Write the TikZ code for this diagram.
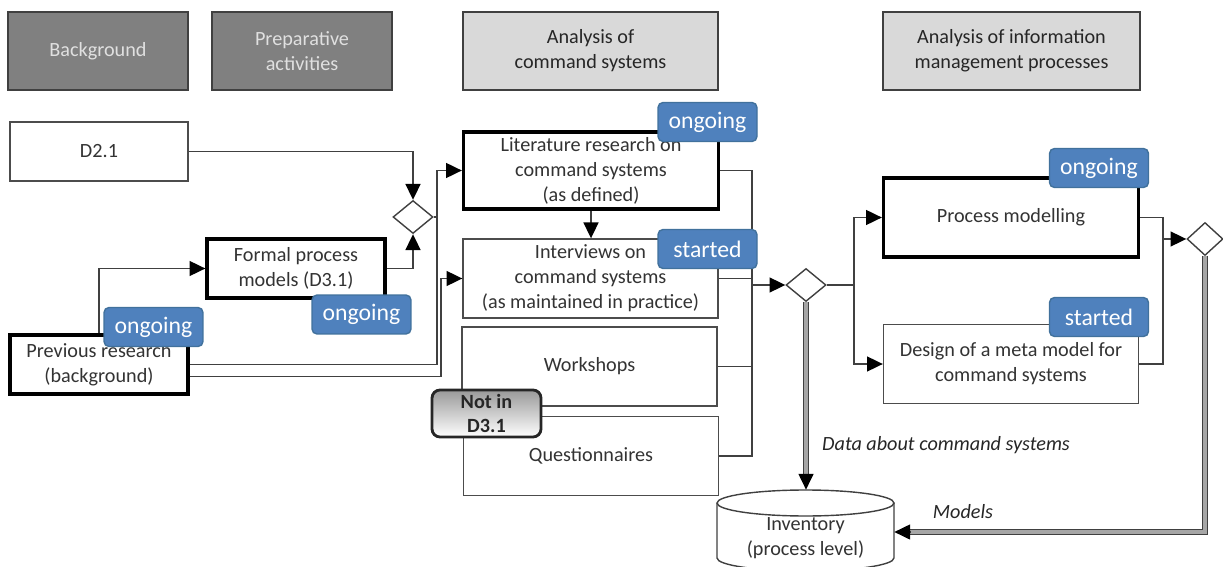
\documentclass[tikz,border=0pt]{standalone}
\usepackage{fontspec}
\setmainfont{Carlito}
\usetikzlibrary{arrows.meta,shapes.geometric}
\definecolor{statusblue}{HTML}{4F81BD}
\definecolor{statusedge}{HTML}{41719C}

\begin{document}
\begin{tikzpicture}[x=0.02cm, y=-0.02cm,
		every node/.style={font=\fontsize{11.5}{14.2}\selectfont, align=center, text=black!80},
		phasedark/.style={draw=black!75, line width=0.8pt, fill=black!50, text=black!12, minimum height=1.56cm},
		phaselight/.style={draw=black!75, line width=0.8pt, fill=black!15, text=black!85, minimum height=1.56cm},
		task/.style={draw=black!70, line width=0.8pt, fill=white, minimum width=5.1cm, minimum height=1.58cm, inner sep=2pt},
		taskbold/.style={task, draw=black, line width=1.9pt},
		smalltask/.style={minimum width=3.56cm, minimum height=1.18cm},
		status/.style={draw=statusedge, line width=0.8pt, fill=statusblue, rounded corners=0.1cm, text=white,
			minimum width=1.98cm, minimum height=0.78cm, inner sep=0pt, font=\fontsize{13.5}{16}\selectfont},
		notin/.style={draw=black!85, line width=1.6pt, rounded corners=0.16cm, top color=black!40, bottom color=white,
			minimum width=2.18cm, minimum height=0.94cm, inner sep=1pt, text=black!85, font=\fontsize{11.5}{14}\selectfont\bfseries},
		gate/.style={diamond, draw=black!75, line width=0.8pt, fill=white, minimum width=0.8cm, minimum height=0.66cm, inner sep=0pt},
		flow/.style={draw=black!75, line width=0.9pt, -{Triangle[length=9pt,width=8.5pt,color=black]}},
		link/.style={draw=black!75, line width=0.9pt},
		dbl/.style={draw=black!75, line width=0.8pt, double=black!35, double distance=1.8pt},
		note/.style={font=\fontsize{11.5}{14}\selectfont\itshape, text=black!85}]
			%%%%% START %%%%%
			\useasboundingbox (0, 0) rectangle (1223, 567);
			
			% phases
			\node[phasedark, minimum width=3.6cm] (bg) at (98, 51) {Background};
			\node[phasedark, minimum width=3.6cm] (prep) at (302, 51) {Preparative\\activities};
			\node[phaselight, minimum width=5.1cm] (acs) at (590.5, 51) {Analysis of\\command systems};
			\node[phaselight, minimum width=5.14cm] (aim) at (1011.5, 51) {Analysis of information\\management processes};
			
			% tasks
			\node[task, smalltask] (d21) at (99, 151.5) {D2.1};
			\node[taskbold, smalltask] (prevres) at (99, 364.5) {Previous research\\(background)};
			\node[taskbold, smalltask] (formal) at (296, 268.5) {Formal process\\models (D3.1)};
			\node[gate] (gate1) at (413, 217) {};
			
			\node[taskbold, minimum height=1.54cm] (lit) at (591, 170.5) {Literature research on\\command systems\\(as defined)};
			\node[task] (intv) at (590.5, 278.5) {Interviews on\\command systems\\(as maintained in practice)};
			\node[task] (wks) at (589.5, 366.5) {Workshops};
			\node[task] (quest) at (591, 456) {Questionnaires};
			\node[gate] (gate2) at (806, 285) {};
			
			\node[taskbold] (procm) at (1011, 217.5) {Process modelling};
			\node[task] (design) at (1011, 364) {Design of a meta model for\\command systems};
			\node[gate, minimum width=0.72cm] (gate3) at (1205, 239) {};
			
			% inventory
			\draw[draw=black!75, line width=0.8pt, fill=white] (717, 503) -- (717, 558)
				arc[start angle=180, end angle=360, x radius=1.77cm, y radius=0.26cm] -- (894, 503);
			\draw[draw=black!75, line width=0.8pt, fill=white] (805.5, 503) ellipse [x radius=1.77cm, y radius=0.26cm];
			\node[minimum width=3.54cm, minimum height=1.92cm, inner sep=0pt] (inv) at (805.5, 538) {Inventory\\(process level)};
			
			% buses
			\coordinate (busA) at (437, 0);
			\coordinate (busB) at (441, 0);
			\coordinate (busC) at (752, 0);
			\coordinate (busD) at (854, 0);
			\coordinate (busE) at (1163, 0);
			
			% connectors
			\draw[flow] (d21.east) -| (gate1.north);
			\draw[flow] (formal.east) -| (gate1.south);
			\draw[flow] (prevres.north) |- (formal.west);
			\draw[flow] (prevres.east) -| (busA |- lit.west) -- (lit.west);
			\draw[link] (gate1.east) -- (gate1.east -| busA);
			\draw[flow] ([yshift=-0.24cm]prevres.east) -| (busB |- intv.west) -- (intv.west);
			\draw[flow] (lit.south) -- (lit.south |- intv.north);
			
			\draw[link] (lit.east) -| (busC |- quest.east) -- (quest.east);
			\draw[link] (intv.east) -- (intv.east -| busC);
			\draw[link] (wks.east) -- (wks.east -| busC);
			\draw[flow] (busC |- gate2.west) -- (gate2.west);
			
			\draw[flow] (gate2.east) -| (busD |- procm.west) -- (procm.west);
			\draw[flow] (busD |- gate2.east) |- (design.west);
			\draw[link] (procm.east) -| (busE |- design.east) -- (design.east);
			\draw[flow] (busE |- gate3.west) -- (gate3.west);
			
			\draw[dbl, shorten >=7pt] (gate2.south) -- (gate2.south |- inv.north);
			\draw[flow] ([yshift=9pt]gate2.south |- inv.north) -- (gate2.south |- inv.north);
			\draw[dbl, shorten >=7pt] (gate3.south) |- ([yshift=0.12cm]inv.east);
			\draw[flow] ([xshift=9pt, yshift=0.12cm]inv.east) -- ([yshift=0.12cm]inv.east);
			
			\node[note, anchor=west] (datalbl) at (816, 445) {Data about command systems};
			\node[note] (modlbl) at (963, 512) {Models};
			
			% status
			\node[status] (st1) at (153.5, 327) {ongoing};
			\node[status] (st2) at (361.5, 314.5) {ongoing};
			\node[status] (st3) at (707.5, 122) {ongoing};
			\node[status] (st4) at (707.5, 249) {started};
			\node[status] (st5) at (1099, 168) {ongoing};
			\node[status] (st6) at (1099, 317) {started};
			\node[notin] (nin) at (486.5, 413.5) {Not in\\D3.1};
			
			%%%%% END %%%%%
\end{tikzpicture}
\end{document}
